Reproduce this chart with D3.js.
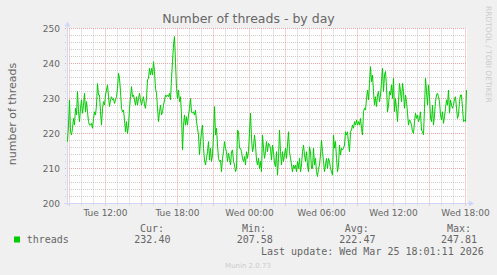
<!DOCTYPE html>
<html><head><meta charset="utf-8">
<script src="https://cdn.jsdelivr.net/npm/d3@7"></script>
<style>html,body{margin:0;padding:0;background:#f0f0f0;overflow:hidden} svg{display:block}</style>
</head><body><svg id="c" width="497" height="275"></svg>
<script>
const title = "Number of threads - by day";
const yAxisLabel = "number of threads";
const seriesName = "threads";
const seriesColor = "#00cc00";
const startTime = Date.UTC(2026, 2, 24, 8, 50, 0);
const stepMs = 300000;
const threadsValues = [
217.7,222.4,229.6,220.5,219.6,221.5,224.3,222.4,227.2,225.3,
232.0,226.2,223.4,227.2,229.6,225.8,228.1,231.5,226.2,229.1,
226.2,223.4,222.4,222.4,222.9,221.5,224.3,226.2,225.3,228.1,
234.3,231.0,231.0,226.2,222.4,227.2,229.1,228.1,231.0,232.4,
233.9,230.5,227.7,229.6,230.5,229.6,230.0,228.6,229.6,230.5,
232.9,237.2,235.8,232.0,227.2,226.2,226.7,223.9,220.5,223.4,
220.0,222.4,227.2,230.5,233.4,230.5,231.0,229.6,228.1,230.5,
228.1,230.0,231.5,229.6,228.1,229.6,230.5,228.1,227.2,230.0,
235.3,
235.8,238.6,236.7,238.6,236.7,240.5,237.7,232.9,231.5,227.2,
223.4,226.2,228.1,225.3,226.2,228.1,229.6,231.0,230.5,231.0,
230.5,231.5,229.6,235.8,240.5,245.3,247.7,240.5,232.9,230.0,
232.4,229.1,230.5,225.3,215.3,222.4,225.3,222.4,224.8,222.4,
225.3,227.2,230.0,226.2,225.8,226.2,225.3,226.7,223.4,221.5,
219.6,213.9,217.7,220.5,222.4,215.8,212.4,211.0,212.9,214.8,
217.7,212.4,215.8,212.0,213.9,219.6,227.7,219.6,221.5,216.7,
212.9,212.0,212.4,209.1,212.9,214.8,217.7,215.8,214.8,212.0,
214.3,212.9,
211.0,214.8,215.3,212.0,211.0,209.1,210.0,221.0,220.5,215.8,
215.8,214.8,212.9,212.0,213.4,211.0,214.8,212.9,214.8,220.5,
225.8,218.6,214.8,216.2,219.6,216.7,212.4,211.0,212.9,210.0,
212.0,209.1,219.6,215.8,212.9,214.8,217.7,214.8,217.2,216.7,
215.8,212.4,216.7,214.8,211.5,210.5,214.8,208.1,212.9,221.0,
214.8,211.0,214.8,212.0,213.9,215.8,212.9,216.7,220.5,214.8,
212.9,211.0,209.1,211.0,210.0,211.0,209.1,212.0,210.0,212.9,
209.1,211.0,214.8,216.7,213.9,212.0,214.8,211.0,209.1,216.2,
214.8,210.0,
210.0,215.8,211.0,212.9,209.1,207.7,210.0,211.0,213.9,218.1,
214.8,212.0,209.1,211.0,212.9,210.0,212.9,212.0,210.0,209.1,
208.1,219.6,215.8,217.7,212.9,209.1,211.0,216.7,213.9,215.8,
215.3,215.8,216.7,220.5,219.6,220.5,217.2,214.8,220.5,221.0,
222.4,221.5,223.4,222.4,223.9,222.4,223.4,222.4,224.3,221.5,
219.6,226.2,227.2,226.7,230.0,232.4,229.6,234.3,239.1,234.8,
236.7,232.0,228.1,230.5,227.7,231.0,232.0,229.1,231.0,234.8,
238.6,232.0,236.7,237.7,233.4,226.2,228.1,232.0,231.0,233.9,
230.0,235.8,
226.2,230.0,227.2,223.4,229.1,234.3,232.0,229.1,234.3,232.0,
227.2,231.0,229.1,225.8,222.4,223.9,223.4,222.4,220.5,220.0,
223.4,225.8,224.3,225.3,223.4,224.3,226.2,221.0,220.5,219.6,
227.2,235.8,232.0,228.1,233.9,230.5,224.3,223.4,228.1,222.4,
225.3,229.1,231.0,231.5,230.5,229.1,225.3,223.9,226.2,222.9,
224.8,227.2,229.6,228.1,232.4,225.8,229.6,228.1,227.2,228.1,
230.0,230.5,227.2,224.3,225.3,229.1,231.0,231.0,227.2,223.4,
223.9,223.4,232.4
];
const yTicks = [200, 210, 220, 230, 240, 250];
const legendHeaders = ["Cur:", "Min:", "Avg:", "Max:"];
const legendValues = ["232.40", "207.58", "222.47", "247.81"];
const lastUpdate = "Last update: Wed Mar 25 18:01:11 2026";
const footer = "Munin 2.0.73";
const sideText = "RRDTOOL / TOBI OETIKER";

const data = threadsValues.map((v, i) => ({ t: new Date(startTime + i * stepMs), v }));

const svg = d3.select("#c");
const L = 67, R = 467, T = 28.5, B = 203.5;
const x = d3.scaleUtc()
  .domain([new Date(Date.UTC(2026, 2, 24, 8, 47, 30)), new Date(Date.UTC(2026, 2, 25, 18, 7, 30))])
  .range([L, R]);
const y = d3.scaleLinear().domain([200, 250]).range([B, T]);

svg.append("rect").attr("width", 497).attr("height", 275).attr("fill", "#f0f0f0");
svg.append("rect").attr("x", L).attr("y", T - 0.5).attr("width", R - L).attr("height", B - T + 0.5).attr("fill", "#ffffff");

const fontSans = "'DejaVu Sans', sans-serif";
const fontMono = "'DejaVu Sans Mono', monospace";
const minorCol = "#cdcdcd", majorCol = "#eba3a3";

// minor horizontal grid
const g = svg.append("g");
y.ticks(25).filter(v => v % 10 !== 0).forEach(v => {
  g.append("line").attr("x1", L - 2).attr("x2", R).attr("y1", y(v)).attr("y2", y(v))
    .attr("stroke", minorCol).attr("stroke-dasharray", "1,1");
});
// minor vertical grid
const hourTicks = x.ticks(d3.utcHour.every(1));
hourTicks.filter(d => d.getUTCHours() % 3 !== 0).forEach(d => {
  const px = Math.round(x(d) - 0.5) + 0.5;
  g.append("line").attr("x1", px).attr("x2", px).attr("y1", T).attr("y2", B + 2)
    .attr("stroke", minorCol).attr("stroke-dasharray", "1,1");
});
// major grid
yTicks.forEach(v => {
  g.append("line").attr("x1", L - 2).attr("x2", R).attr("y1", y(v)).attr("y2", y(v))
    .attr("stroke", majorCol).attr("stroke-dasharray", "1,1");
});
x.ticks(d3.utcHour.every(3)).forEach(d => {
  const px = Math.round(x(d) - 0.5) + 0.5;
  g.append("line").attr("x1", px).attr("x2", px).attr("y1", T).attr("y2", B + 2)
    .attr("stroke", majorCol).attr("stroke-dasharray", "1,1");
});

// axes
const axisCol = "#cfd6f8";
svg.append("line").attr("x1", L - 3).attr("x2", R + 3).attr("y1", B).attr("y2", B).attr("stroke", axisCol);
svg.append("line").attr("x1", L + 0.5).attr("x2", L + 0.5).attr("y1", B + 2).attr("y2", T - 3).attr("stroke", axisCol);
svg.append("path").attr("d", `M${R + 2},${B - 3}L${R + 7},${B}L${R + 2},${B + 3}Z`).attr("fill", axisCol);
svg.append("path").attr("d", `M${L - 2.5},${T - 2}L${L + 0.5},${T - 7}L${L + 3.5},${T - 2}Z`).attr("fill", axisCol);

// y tick labels
yTicks.forEach(v => {
  svg.append("text").attr("x", 60).attr("y", y(v) + 3.3).attr("text-anchor", "end")
    .attr("font-family", fontSans).attr("font-size", 9).attr("fill", "#666666").text(v);
});
// x tick labels
const fmt = d3.utcFormat("%a %H:%M");
x.ticks(d3.utcHour.every(6)).forEach(d => {
  svg.append("text").attr("x", Math.round(x(d) - 0.5) + 0.5).attr("y", 215.5).attr("text-anchor", "middle")
    .attr("font-family", fontSans).attr("font-size", 9).attr("fill", "#666666").text(fmt(d));
});

// data line
svg.append("path").datum(data)
  .attr("d", d3.line().x(d => x(d.t)).y(d => y(d.v)))
  .attr("fill", "none").attr("stroke", seriesColor).attr("stroke-width", 1);

// title
svg.append("text").attr("x", 248.5).attr("y", 23).attr("text-anchor", "middle")
  .attr("font-family", fontSans).attr("font-size", 12.5).attr("fill", "#666666").text(title);
// y axis label
svg.append("text").attr("transform", "translate(15.5,114) rotate(-90)").attr("text-anchor", "middle")
  .attr("font-family", fontSans).attr("font-size", 11).attr("fill", "#666666").text(yAxisLabel);
// side text
svg.append("text").attr("transform", "translate(485.5,6) rotate(90)").attr("text-anchor", "start")
  .attr("font-family", fontSans).attr("font-size", 7.5).attr("fill", "#cccccc").text(sideText);

// legend
svg.append("rect").attr("x", 14).attr("y", 236.5).attr("width", 6).attr("height", 6).attr("fill", seriesColor);
svg.append("text").attr("x", 26.7).attr("y", 243).attr("font-family", fontMono).attr("font-size", 10)
  .attr("fill", "#666666").text(seriesName);
const headX = [140, 242, 344.7, 447];
const valX = [134.3, 236.7, 339.3, 441];
legendHeaders.forEach((h, i) => {
  svg.append("text").attr("x", headX[i]).attr("y", 231.5).attr("font-family", fontMono).attr("font-size", 10)
    .attr("fill", "#666666").text(h);
  svg.append("text").attr("x", valX[i]).attr("y", 243).attr("font-family", fontMono).attr("font-size", 10)
    .attr("fill", "#666666").text(legendValues[i]);
});
svg.append("text").attr("x", 261).attr("y", 255).attr("font-family", fontMono).attr("font-size", 10)
  .attr("fill", "#666666").text(lastUpdate);
svg.append("text").attr("x", 248).attr("y", 267.5).attr("text-anchor", "middle").attr("font-family", fontSans)
  .attr("font-size", 7).attr("fill", "#cccccc").text(footer);
</script></body></html>
